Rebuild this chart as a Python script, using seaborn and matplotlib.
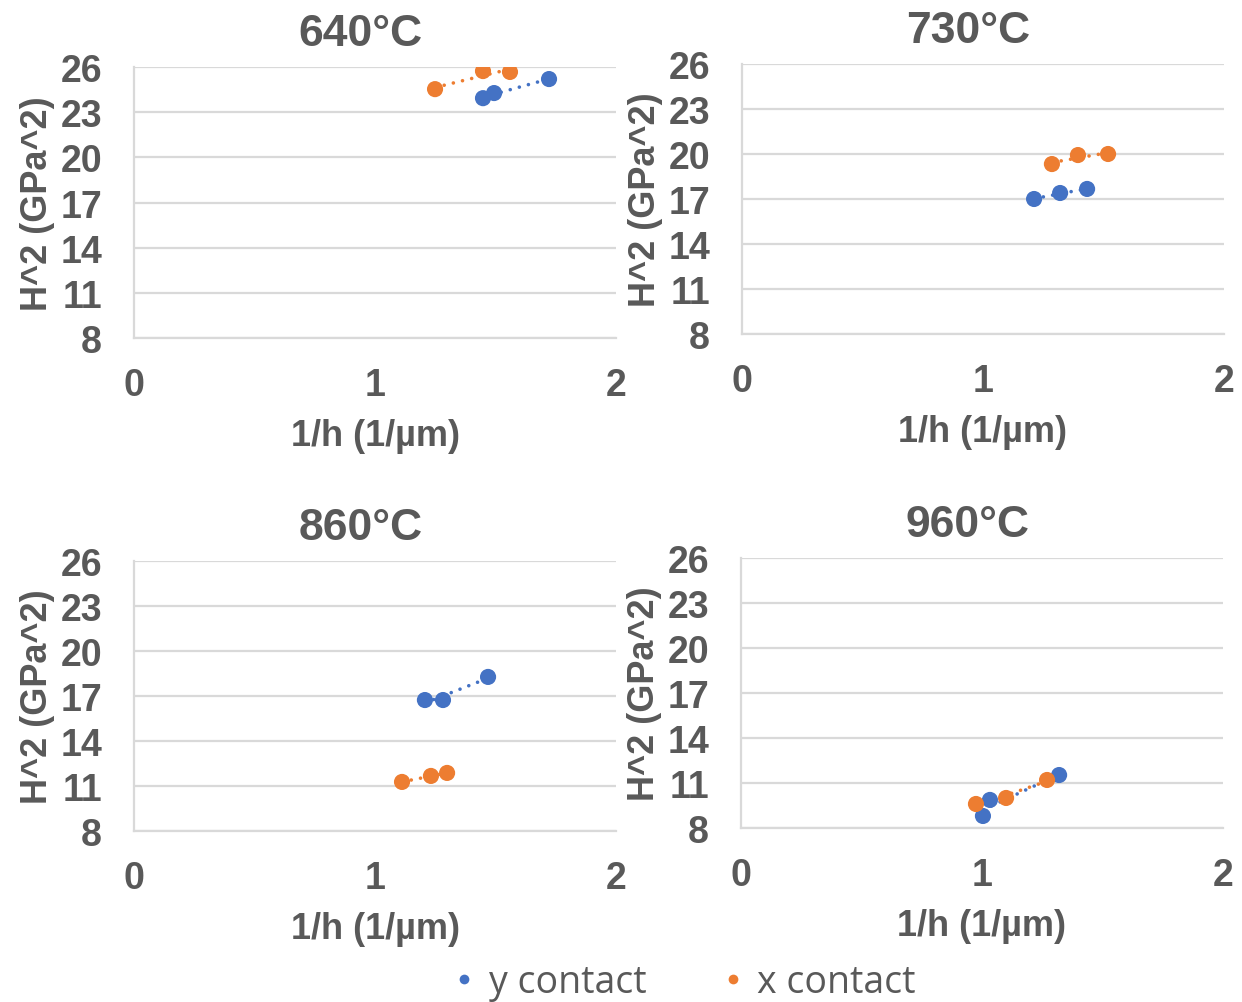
import numpy as np
import pandas as pd
import matplotlib
matplotlib.use("Agg")
import matplotlib.pyplot as plt
from matplotlib.lines import Line2D
import seaborn as sns

sns.set_theme(style="white")
plt.rcParams["font.family"] = ["Liberation Sans", "DejaVu Sans"]

# Indentation data: 1/h (1/µm) vs H^2 (GPa^2) per annealing temperature
titles = ["640°C", "730°C", "860°C", "960°C"]

y_inv_h = [
    [1.448, 1.494, 1.722],
    [1.212, 1.320, 1.432],
    [1.207, 1.282, 1.469],
    [1.004, 1.033, 1.320],
]
y_h2 = [
    [23.93, 24.27, 25.20],
    [17.00, 17.40, 17.67],
    [16.73, 16.73, 18.27],
    [8.80, 9.87, 11.53],
]
x_inv_h = [
    [1.249, 1.448, 1.560],
    [1.286, 1.394, 1.519],
    [1.112, 1.232, 1.299],
    [0.975, 1.100, 1.270],
]
x_h2 = [
    [24.53, 25.73, 25.67],
    [19.33, 19.93, 20.00],
    [11.27, 11.67, 11.87],
    [9.60, 10.00, 11.20],
]

series_names = ["y contact", "x contact"]
colors = {"y contact": "#4472C4", "x contact": "#ED7D31"}

y_ticks = [8, 11, 14, 17, 20, 23, 26]
x_ticks = [0, 1, 2]

text_color = "#595959"
grid_color = "#D9D9D9"

fig = plt.figure(figsize=(12.42, 10.03), dpi=100)

# axes rectangles [left, bottom, width, height] in figure fraction
rects = [
    [0.1079, 0.6620, 0.3881, 0.2702],
    [0.5974, 0.6660, 0.3881, 0.2692],
    [0.1079, 0.1705, 0.3881, 0.2692],
    [0.5966, 0.1735, 0.3881, 0.2692],
]

for i, rect in enumerate(rects):
    ax = fig.add_axes(rect)
    df = pd.concat([
        pd.DataFrame({"inv_h": y_inv_h[i], "h2": y_h2[i], "series": "y contact"}),
        pd.DataFrame({"inv_h": x_inv_h[i], "h2": x_h2[i], "series": "x contact"}),
    ], ignore_index=True)

    # dotted linear trendlines
    for name in series_names:
        sub = df[df["series"] == name]
        sns.regplot(data=sub, x="inv_h", y="h2", ax=ax, scatter=False, ci=None,
                    truncate=True, color=colors[name],
                    line_kws=dict(linestyle=(0, (0.01, 2.6)), linewidth=2.6,
                                  dash_capstyle="round", zorder=2))
    sns.scatterplot(data=df, x="inv_h", y="h2", hue="series", palette=colors,
                    hue_order=series_names, s=135, edgecolor="none", ax=ax,
                    legend=False, zorder=3)

    ax.set_xlim(0, 2)
    ax.set_ylim(8, 26)
    ax.set_xticks(x_ticks)
    ax.set_yticks(y_ticks)
    ax.yaxis.grid(True, color=grid_color, linewidth=1.6)
    ax.set_axisbelow(True)
    for side in ["top", "right"]:
        ax.spines[side].set_visible(False)
    for side in ["left", "bottom"]:
        ax.spines[side].set_color(grid_color)
        ax.spines[side].set_linewidth(1.6)
    ax.tick_params(axis="both", length=0, labelsize=27, labelcolor=text_color)
    ax.tick_params(axis="y", pad=23)
    ax.tick_params(axis="x", pad=21)
    for lab in ax.get_xticklabels() + ax.get_yticklabels():
        lab.set_fontweight("bold")
    ax.set_xlabel("1/h (1/µm)", fontsize=26, fontweight="bold", color=text_color,
                  labelpad=11)
    ax.set_ylabel("H^2 (GPa^2)", fontsize=26, fontweight="bold", color=text_color,
                  labelpad=4)
    ax.set_title(titles[i], fontsize=32, fontweight="bold", color=text_color,
                 pad=16, x=0.47)

handles = [Line2D([0], [0], marker="o", linestyle="none", markersize=7,
                  markerfacecolor=colors[n], markeredgecolor="none") for n in series_names]
fig.legend(handles, series_names, loc="center", bbox_to_anchor=(0.551, 0.02),
           ncol=2, frameon=False, labelcolor=text_color,
           handlelength=0.6, handletextpad=0.35, columnspacing=2.0,
           prop={"family": "Open Sans", "size": 27})

fig.savefig("out.png", dpi=100, facecolor="white")
